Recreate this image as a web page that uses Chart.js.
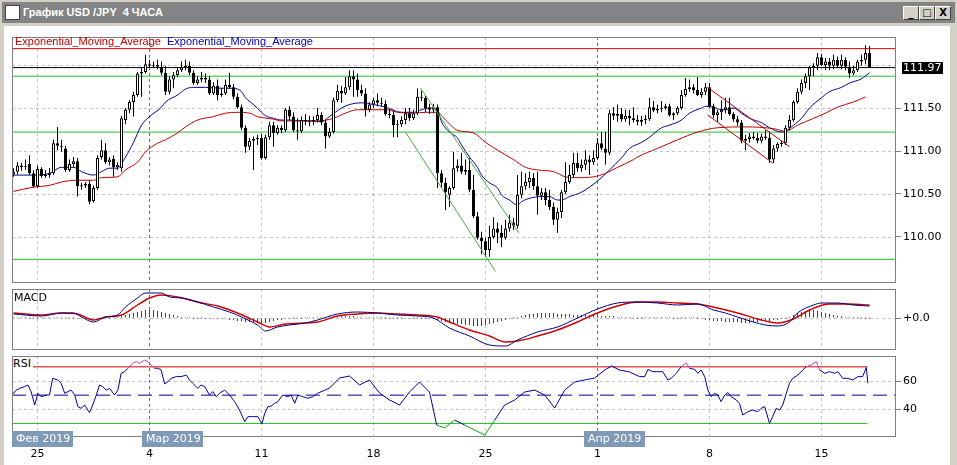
<!DOCTYPE html>
<html lang="ru">
<head>
<meta charset="UTF-8">
<title>График USD/JPY 4 часа</title>
<script src="https://cdn.jsdelivr.net/npm/chart.js"></script>
<style>
  body { margin: 0; width: 957px; height: 465px; overflow: hidden; background: #d4d0c8; position: relative; font-family: 'DejaVu Sans', sans-serif; }
  #titlebar { position: absolute; left: 2px; top: 2px; width: 953px; height: 21px; background: #848484; }
  #titlebar .ttl { position: absolute; left: 21px; top: 4px; color: #fff; font: bold 11px 'Liberation Sans', sans-serif; white-space: pre; }
  #titlebar .ico { position: absolute; left: 3px; top: 3px; width: 13px; height: 13px; background: #fff; border: 1px solid #404040; }
  .btn { position: absolute; top: 4px; width: 14px; height: 12px; background: #d4d0c8; border: 1px solid; border-color: #fff #404040 #404040 #fff; font: bold 10px 'DejaVu Sans', sans-serif; line-height: 12px; text-align: center; color: #000; }
  #client { position: absolute; left: 4px; top: 26px; width: 946px; height: 439px; background: #fff; }
  canvas { position: absolute; }
  .lbl { position: absolute; font-size: 11px; line-height: 13px; color: #000; white-space: pre; }
  .leg { position: absolute; top: 34px; font: 11px 'Liberation Sans', sans-serif; line-height: 14px; white-space: pre; z-index: 2; }
</style>
</head>
<body>
  <div id="titlebar">
    <div class="ico"></div>
    <span class="ttl">График USD /JPY  4 ЧАСА</span>
    <div class="btn" style="left:901px">_</div>
    <div class="btn" style="left:917px">□</div>
    <div class="btn" style="left:933px">X</div>
  </div>
  <div id="client"></div>

  <canvas id="mainChart" width="945" height="246" style="left:12px; top:37px"></canvas>
  <canvas id="macdChart" width="945" height="61" style="left:12px; top:289px"></canvas>
  <canvas id="rsiChart" width="945" height="109" style="left:12px; top:356px"></canvas>

  <span class="leg" style="left:15px; color:#c00000">Exponential_Moving_Average</span>
  <span class="leg" style="left:167px; color:#0000b0">Exponential_Moving_Average</span>
  <span class="lbl" style="left:14px; top:291px">MACD</span>
  <span class="lbl" style="left:13px; top:357px; background:#fff; padding-right:2px">RSI</span>

<script>
// 4h bars, index 0 = first bar on the left
const open = [
  110.73,110.76,110.83,110.81,110.85,110.74,110.59,110.79,110.71,110.72,
  110.74,111.09,111.06,111.03,110.78,110.85,110.88,110.59,110.60,110.62,
  110.42,110.57,110.93,111.01,110.87,110.91,110.81,110.80,111.36,111.48,
  111.57,111.65,111.90,111.92,112.01,111.99,112.00,111.98,111.91,111.69,
  111.83,111.88,111.94,111.97,111.99,111.91,111.79,111.83,111.85,111.83,
  111.67,111.76,111.65,111.67,111.77,111.74,111.63,111.51,111.27,111.05,
  111.12,111.14,111.15,110.92,111.16,111.30,111.21,111.27,111.24,111.48,
  111.40,111.24,111.23,111.36,111.35,111.34,111.36,111.42,111.33,111.17,
  111.22,111.59,111.70,111.67,111.74,111.87,111.83,111.71,111.67,111.48,
  111.54,111.59,111.56,111.55,111.43,111.42,111.30,111.31,111.36,111.44,
  111.38,111.44,111.63,111.62,111.50,111.48,111.51,110.74,110.63,110.49,
  110.57,110.80,110.83,110.76,110.78,110.55,110.24,109.99,109.95,109.85,
  110.00,110.10,110.05,109.99,110.10,110.17,110.13,110.49,110.59,110.64,
  110.69,110.59,110.48,110.52,110.43,110.35,110.20,110.29,110.52,110.64,
  110.72,110.86,110.80,110.84,110.90,110.87,110.92,111.09,111.03,110.98,
  111.44,111.41,111.43,111.37,111.41,111.38,111.36,111.34,111.36,111.37,
  111.51,111.47,111.49,111.50,111.52,111.42,111.44,111.50,111.65,111.72,
  111.74,111.71,111.65,111.69,111.74,111.52,111.42,111.45,111.48,111.51,
  111.43,111.37,111.33,111.12,111.14,111.17,111.15,111.12,111.17,111.15,
  110.90,111.03,111.08,111.09,111.27,111.36,111.57,111.69,111.79,111.87,
  111.97,111.99,112.09,112.00,112.04,111.99,112.06,111.99,112.06,111.98,
  111.90,111.94,112.04,112.06,112.14
];
const high = [
  110.80,110.87,110.86,110.90,110.95,110.78,110.83,110.81,110.78,110.80,
  111.13,111.28,111.13,111.06,110.90,110.93,110.92,110.63,110.64,110.66,
  110.60,110.95,111.13,111.09,110.93,110.95,110.87,111.41,111.50,111.59,
  111.69,111.92,111.97,112.12,112.06,112.04,112.06,112.04,111.99,111.87,
  111.92,111.97,112.04,112.06,112.04,111.94,111.87,111.92,111.90,111.87,
  111.80,111.83,111.73,111.83,111.91,111.78,111.67,111.54,111.30,111.15,
  111.17,111.19,111.20,111.19,111.34,111.34,111.30,111.30,111.50,111.52,
  111.45,111.38,111.40,111.43,111.41,111.40,111.50,111.45,111.36,111.27,
  111.62,111.77,111.76,111.86,111.94,111.94,111.90,111.77,111.73,111.57,
  111.62,111.67,111.62,111.59,111.49,111.48,111.36,111.40,111.50,111.50,
  111.48,111.73,111.70,111.64,111.55,111.55,111.54,110.78,110.69,110.59,
  110.99,110.90,110.98,110.90,110.92,110.72,110.29,110.06,109.99,110.13,
  110.23,110.17,110.14,110.20,110.26,110.22,110.72,110.76,110.74,110.76,
  110.74,110.76,110.57,110.57,110.55,110.40,110.34,110.55,110.87,110.84,
  110.98,110.98,110.90,111.01,110.95,111.01,111.15,111.22,111.22,111.48,
  111.51,111.54,111.50,111.48,111.48,111.51,111.42,111.41,111.42,111.62,
  111.58,111.54,111.58,111.55,111.55,111.45,111.52,111.71,111.85,111.83,
  111.78,111.86,111.73,111.79,111.79,111.55,111.48,111.59,111.62,111.62,
  111.45,111.41,111.36,111.19,111.21,111.22,111.21,111.20,111.24,111.22,
  111.07,111.10,111.12,111.30,111.42,111.59,111.73,111.83,111.90,111.99,
  112.02,112.14,112.13,112.08,112.08,112.12,112.10,112.12,112.09,112.04,
  111.99,112.06,112.12,112.23,112.22
];
const low = [
  110.70,110.73,110.77,110.78,110.72,110.57,110.57,110.69,110.69,110.69,
  110.72,111.01,110.99,110.76,110.76,110.81,110.47,110.55,110.57,110.38,
  110.40,110.55,110.90,110.85,110.83,110.70,110.78,110.76,111.31,111.44,
  111.40,111.63,111.63,111.90,111.97,111.97,111.95,111.88,111.65,111.66,
  111.73,111.86,111.92,111.94,111.88,111.77,111.77,111.80,111.79,111.65,
  111.65,111.59,111.63,111.65,111.72,111.60,111.49,111.24,110.98,111.01,
  110.78,111.07,110.90,110.90,111.13,111.05,111.19,111.21,111.22,111.36,
  111.22,111.13,111.21,111.30,111.29,111.30,111.33,111.30,111.03,111.15,
  111.20,111.57,111.56,111.65,111.71,111.63,111.63,111.64,111.40,111.45,
  111.50,111.52,111.52,111.41,111.38,111.16,111.16,111.28,111.31,111.35,
  111.36,111.42,111.58,111.45,111.43,111.44,110.57,110.57,110.31,110.35,
  110.55,110.76,110.73,110.72,110.52,110.22,109.97,109.80,109.77,109.77,
  109.98,109.93,109.88,109.97,110.06,110.08,110.10,110.45,110.55,110.57,
  110.55,110.26,110.43,110.37,110.31,110.14,110.05,110.22,110.50,110.62,
  110.69,110.76,110.76,110.78,110.72,110.84,110.90,111.01,110.84,110.95,
  111.36,111.34,111.34,111.34,111.30,111.33,111.30,111.29,111.31,111.35,
  111.45,111.44,111.45,111.48,111.40,111.36,111.42,111.48,111.63,111.69,
  111.67,111.64,111.62,111.65,111.50,111.38,111.34,111.36,111.44,111.41,
  111.34,111.29,111.09,111.01,111.10,111.13,111.09,111.09,111.13,110.86,
  110.86,110.99,111.05,111.07,111.24,111.34,111.55,111.66,111.73,111.71,
  111.87,111.94,111.99,111.94,111.94,111.95,111.97,111.95,111.94,111.85,
  111.88,111.92,111.99,112.01,111.97
];
const close = [
  110.76,110.83,110.81,110.81,110.74,110.59,110.79,110.71,110.72,110.74,
  111.09,111.06,111.05,110.78,110.85,110.88,110.59,110.60,110.62,110.41,
  110.57,110.92,111.01,110.87,110.90,110.81,110.84,111.38,111.48,111.57,
  111.65,111.90,111.92,112.01,111.99,112.00,111.98,111.91,111.69,111.83,
  111.88,111.94,111.97,111.99,111.91,111.79,111.83,111.85,111.83,111.67,
  111.76,111.65,111.67,111.77,111.74,111.63,111.51,111.27,111.05,111.12,
  111.14,111.15,110.92,111.16,111.30,111.21,111.27,111.24,111.48,111.40,
  111.24,111.23,111.36,111.35,111.34,111.36,111.42,111.33,111.17,111.22,
  111.59,111.70,111.67,111.74,111.87,111.83,111.71,111.67,111.48,111.54,
  111.59,111.56,111.55,111.43,111.42,111.30,111.31,111.36,111.44,111.38,
  111.44,111.63,111.62,111.50,111.48,111.51,110.74,110.63,110.52,110.57,
  110.80,110.83,110.76,110.78,110.55,110.24,109.99,109.95,109.85,110.00,
  110.10,110.05,109.99,110.10,110.17,110.13,110.49,110.59,110.64,110.69,
  110.59,110.48,110.52,110.43,110.35,110.20,110.29,110.52,110.64,110.72,
  110.86,110.80,110.84,110.90,110.87,110.92,111.09,111.03,110.98,111.44,
  111.41,111.43,111.37,111.41,111.38,111.36,111.34,111.36,111.37,111.51,
  111.47,111.49,111.50,111.52,111.42,111.44,111.50,111.65,111.72,111.74,
  111.71,111.65,111.69,111.74,111.52,111.42,111.45,111.48,111.51,111.43,
  111.37,111.33,111.12,111.14,111.17,111.15,111.12,111.17,111.15,110.90,
  111.03,111.08,111.09,111.27,111.36,111.57,111.69,111.79,111.87,111.97,
  111.99,112.09,112.00,112.04,111.99,112.06,111.99,112.06,111.98,111.90,
  111.94,112.04,112.06,112.14,111.97
];

// EMA curves: [bar, price]
const emaFast = [
  [0,110.72],[5,110.72],[9,110.74],[12,110.81],[15,110.81],[17,110.76],[20,110.72],[22,110.76],[24,110.80],[26,110.80],
  [28,110.93],[30,111.10],[32,111.30],[34,111.40],[37,111.51],[38,111.57],[41,111.65],[43,111.72],[45,111.74],[48,111.74],
  [52,111.73],[55,111.73],[57,111.69],[58,111.62],[60,111.54],[62,111.45],[63,111.41],[65,111.38],[67,111.36],[69,111.36],
  [72,111.35],[75,111.35],[77,111.34],[79,111.40],[82,111.50],[84,111.54],[87,111.56],[90,111.54],[93,111.51],[97,111.45],
  [100,111.45],[102,111.48],[104,111.50],[106,111.48],[107,111.34],[109,111.22],[111,111.15],[112,111.07],[114,110.93],[116,110.81],
  [117,110.72],[119,110.63],[121,110.57],[122,110.49],[124,110.43],[126,110.37],[127,110.41],[129,110.45],[132,110.47],[134,110.47],
  [136,110.43],[137,110.43],[139,110.47],[142,110.52],[144,110.58],[147,110.69],[149,110.78],[152,110.92],[154,111.03],[157,111.10],
  [159,111.16],[162,111.27],[164,111.30],[167,111.36],[169,111.44],[172,111.50],[173,111.52],[175,111.51],[177,111.48],[178,111.48],
  [180,111.50],[182,111.44],[184,111.38],[187,111.33],[189,111.27],[192,111.22],[193,111.23],[195,111.30],[197,111.38],[199,111.50],
  [202,111.62],[204,111.69],[207,111.74],[209,111.79],[212,111.84],[214,111.91]
];
const emaSlow = [
  [0,110.53],[5,110.58],[9,110.60],[12,110.64],[16,110.66],[20,110.66],[22,110.69],[26,110.70],[28,110.78],[31,110.87],
  [33,110.99],[36,111.09],[38,111.13],[41,111.21],[43,111.28],[46,111.36],[50,111.40],[53,111.44],[56,111.45],[59,111.44],
  [61,111.40],[65,111.37],[67,111.35],[71,111.35],[76,111.35],[80,111.38],[83,111.44],[86,111.48],[90,111.48],[93,111.48],
  [96,111.45],[100,111.44],[103,111.45],[106,111.45],[108,111.36],[111,111.24],[115,111.21],[118,111.10],[121,111.01],[125,110.90],
  [128,110.81],[131,110.78],[135,110.76],[138,110.70],[141,110.69],[145,110.70],[148,110.74],[151,110.81],[155,110.90],[156,110.93],
  [161,111.03],[166,111.13],[171,111.22],[176,111.27],[183,111.28],[190,111.26],[193,111.23],[196,111.30],[200,111.38],[203,111.44],
  [206,111.51],[210,111.57],[213,111.63]
];

// horizontal levels and trend lines drawn on the chart
const redLevels = [112.19];
const greenLevels = [111.87, 111.22, 109.74];
const greenTrends = [[[101.8,111.73],[126.3,110.05]], [[98,111.22],[120.5,109.60]]];
const redTrends = [[[173.5,111.74],[194,111.05]], [[173.5,111.42],[189.8,110.86]]];

// MACD panel
const macdLine = [
  [0,0.020],[7,0.010],[12,0.025],[15,0.025],[17,0.005],[20,-0.020],[23,0.005],[26,0.015],[28,0.055],[31,0.100],
  [33,0.125],[37,0.125],[39,0.105],[42,0.100],[46,0.080],[50,0.055],[54,0.030],[57,0.005],[61,-0.035],[63,-0.065],
  [66,-0.045],[69,-0.035],[73,-0.025],[76,-0.010],[81,0.020],[86,0.030],[91,0.025],[96,0.015],[101,0.010],[105,0.000],
  [109,-0.050],[114,-0.090],[119,-0.135],[123,-0.140],[126,-0.110],[131,-0.070],[136,-0.045],[141,0.000],[146,0.045],[151,0.075],
  [156,0.080],[161,0.075],[166,0.065],[171,0.070],[175,0.040],[178,0.025],[181,0.005],[185,-0.020],[188,-0.035],[191,-0.040],
  [194,-0.020],[196,0.025],[200,0.065],[202,0.075],[206,0.075],[210,0.065],[214,0.060]
];
const signalLine = [
  [0,0.025],[7,0.015],[12,0.025],[16,0.020],[20,-0.010],[23,0.005],[27,0.015],[31,0.065],[34,0.100],[37,0.115],
  [41,0.105],[46,0.080],[51,0.060],[56,0.025],[61,-0.020],[64,-0.045],[68,-0.030],[76,-0.020],[81,0.010],[86,0.020],
  [91,0.025],[96,0.020],[101,0.015],[106,0.005],[109,-0.020],[114,-0.060],[119,-0.090],[123,-0.120],[126,-0.115],[131,-0.090],
  [136,-0.060],[141,-0.020],[146,0.025],[151,0.060],[156,0.080],[161,0.080],[166,0.075],[171,0.070],[176,0.050],[181,0.025],
  [186,-0.005],[191,-0.025],[195,-0.005],[199,0.040],[204,0.070],[209,0.070],[214,0.065]
];
const macdHist = [
  0.005,0.005,0.005,0.005,0,0,0,0.005,0.005,0.005,0.005,0.005,0.005,0,0,0,-0.005,-0.005,-0.005,-0.005,
  -0.005,-0.005,-0.005,0,0,0.005,0.005,0.01,0.015,0.02,0.025,0.03,0.035,0.04,0.04,0.04,0.035,0.03,0.025,0.02,
  0.015,0.01,0.005,0.005,0.005,0,0,0,-0.005,-0.005,-0.005,-0.005,-0.005,-0.005,-0.01,-0.01,-0.015,-0.015,-0.02,-0.02,
  -0.025,-0.025,-0.025,-0.025,-0.02,-0.015,-0.01,-0.01,-0.005,-0.005,0,0,0,0.005,0.005,0.005,0.005,0.005,0.005,0.005,
  0.005,0.005,0.01,0.01,0.01,0.01,0.005,0.005,0.005,0.005,0.005,0.005,0,0,0,0,0,0,-0.005,-0.005,
  0,0,0,0,-0.005,-0.005,-0.01,-0.015,-0.02,-0.025,-0.03,-0.03,-0.03,-0.035,-0.035,-0.04,-0.04,-0.04,-0.035,-0.03,
  -0.025,-0.02,-0.015,-0.01,-0.005,0,0.005,0.01,0.015,0.02,0.02,0.025,0.025,0.025,0.025,0.025,0.02,0.02,0.02,0.02,
  0.015,0.015,0.015,0.015,0.015,0.015,0.01,0.01,0.01,0.01,0.01,0.005,0.005,0.005,0.005,0,0,0,0.005,0.005,
  0.005,0.005,0.005,0.005,0.005,0,0,0,0.005,0.005,0.005,0,-0.005,-0.01,-0.01,-0.015,-0.015,-0.015,-0.02,-0.02,
  -0.02,-0.02,-0.025,-0.025,-0.025,-0.02,-0.02,-0.015,-0.015,-0.015,-0.01,-0.01,-0.005,0,0.005,0.015,0.025,0.03,0.035,0.04,
  0.04,0.035,0.03,0.025,0.02,0.015,0.01,0.01,0.005,0.005,0.005,0,0,0,0
];

// RSI panel
const rsiPts = [
  [-0.4,50.1],[0.7,53.6],[1.5,54.8],[2.8,56.0],[3.6,57.2],[4.4,52.5],[5.3,43.0],[6.1,51.3],[6.9,48.9],[8.2,50.1],
  [9,50.1],[9.8,61.9],[11.1,60.7],[11.9,58.4],[12.8,51.3],[13.6,52.5],[14.4,53.6],[15.3,50.1],[16.1,41.9],[16.9,40.7],
  [17.8,43.0],[19,37.6],[19.8,43.0],[20.7,50.1],[21.5,57.2],[22.3,56.0],[23.2,53.6],[24,54.8],[25.3,50.1],[26.1,53.6],
  [26.9,65.4],[27.8,66.6],[28.6,69.0],[29.4,71.3],[29.8,72.5],[30.7,73.7],[31.5,72.5],[32.8,74.8],[33.6,73.7],[34.4,71.3],
  [35.3,69.0],[36.1,69.0],[36.9,67.8],[37.8,57.9],[38.6,59.5],[39.4,61.9],[40.7,63.1],[41.9,63.1],[43.2,64.2],[44,60.7],
  [44.8,58.4],[46.1,54.8],[46.9,57.2],[47.8,56.0],[49,50.1],[49.8,52.5],[50.7,48.9],[51.5,51.3],[52.8,53.6],[54,50.1],
  [55.3,45.4],[56.5,39.5],[57.8,31.3],[58.6,34.8],[59.8,34.8],[61.1,34.8],[62.1,29.6],[62.8,37.1],[63.6,41.9],[64.4,42.3],
  [65.3,44.2],[66.1,45.4],[67.3,50.1],[68.6,48.9],[69.4,50.1],[70.3,44.2],[71.1,50.1],[72.3,48.9],[73.6,47.8],[74.8,48.9],
  [76,51.3],[79,55.0],[81.5,62.1],[84,63.5],[86.5,57.2],[89,60.7],[91.5,51.5],[94,46.6],[96.5,43.0],[99,52.2],
  [101.5,59.3],[104,52.2],[105.8,28.9],[107.8,26.8],[110.3,32.4],[112.8,28.9],[115.3,25.4],[117.8,21.8],[120.3,32.4],[122.8,43.0],
  [125.3,46.6],[127.8,52.2],[130.3,53.6],[132.8,50.1],[135.3,40.9],[137.8,53.6],[140.3,59.3],[142.8,60.7],[145.3,62.1],[147.8,67.8],
  [149.5,70.6],[151.5,67.8],[154,66.4],[156.5,63.1],[157.8,63.1],[158.6,68.2],[159.8,66.6],[161,66.6],[162.3,66.6],[163.6,60.7],
  [164.4,61.9],[165.7,65.4],[166.9,70.1],[168.2,72.9],[169,69.0],[170.3,68.2],[171.1,65.4],[171.9,67.8],[172.8,63.1],[173.6,53.6],
  [174.4,48.9],[175.3,51.3],[176.1,50.1],[176.9,45.4],[177.8,50.1],[178.6,51.8],[179.4,48.9],[180.7,46.6],[181.5,44.2],[182.3,36.0],
  [183.6,38.3],[184.8,39.5],[186.1,38.3],[186.9,40.7],[187.8,41.9],[189,30.1],[189.8,34.8],[190.7,40.7],[191.5,39.5],[192.3,43.0],
  [193.2,51.3],[194,58.4],[194.8,61.9],[196.1,64.2],[197.3,67.8],[198.2,70.1],[199.4,71.3],[200.7,73.7],[201.5,67.8],[202.8,65.4],
  [204,66.6],[205.3,65.4],[206.1,66.6],[207.3,61.9],[208.6,61.9],[209.8,60.7],[211.1,63.1],[212.3,63.1],[213.2,69.5],[213.6,58.4]
];
const rsiLevels = { high: 70, mid: 50, low: 30 };

// time axis
const dayIdx = [6, 34, 62, 90, 118, 146, 174, 202];
const dayLabels = ['25', '4', '11', '18', '25', '1', '8', '15'];
const monthIdx = [34, 146];
const monthLabels = ['Фев 2019', 'Мар 2019', 'Апр 2019'];
const monthBoxIdx = [-0.4, 32, 142.5];

const FONT = { family: 'DejaVu Sans', size: 11 };
const X_MIN = -0.375, X_MAX = 220.625;   // 4px per bar, bars land on whole pixels
const lastBar = close.length - 1;
const lastClose = close[lastBar];

function pts(arr) { return arr.map(p => ({ x: p[0], y: p[1] })); }
function line(arr, color, width, order, extra) {
  return Object.assign({ type: 'line', data: pts(arr), borderColor: color, borderWidth: width,
    pointRadius: 0, fill: false, order: order }, extra || {});
}
function hLine(v, color, x0, x1, order) {
  return line([[x0, v], [x1, v]], color, 1, order);
}

function xAxis() {
  return { type: 'linear', min: X_MIN, max: X_MAX, offset: false, display: false };
}
function yAxis(min, max, ticks, fmt) {
  return {
    position: 'right', min: min, max: max,
    afterFit(s) { s.width = 61; s.paddingTop = 0; s.paddingBottom = 0; },
    afterBuildTicks(s) { s.ticks = ticks.map(v => ({ value: v })); },
    grid: { drawOnChartArea: false, drawTicks: true, tickLength: 5, color: '#808080' },
    border: { display: false },
    ticks: { padding: 2, color: '#000', font: FONT, autoSkip: false, callback: fmt }
  };
}

// dashed grid + panel frame
function panel(levels, after) {
  return {
    id: 'panel',
    beforeDatasetsDraw(chart) {
      const { ctx, chartArea: a, scales: { x, y } } = chart;
      ctx.save();
      ctx.lineWidth = 1;
      ctx.setLineDash([3, 3]);
      levels.forEach(v => {
        const py = Math.round(y.getPixelForValue(v)) + 0.5;
        ctx.strokeStyle = '#c4c4c4';
        ctx.beginPath(); ctx.moveTo(a.left, py); ctx.lineTo(a.right, py); ctx.stroke();
      });
      dayIdx.forEach(v => {
        const px = Math.floor(x.getPixelForValue(v)) + 0.5;
        ctx.strokeStyle = monthIdx.includes(v) ? '#707070' : '#c4c4c4';
        ctx.beginPath(); ctx.moveTo(px, a.top); ctx.lineTo(px, a.bottom); ctx.stroke();
      });
      ctx.restore();
    },
    afterDraw(chart) {
      const { ctx, chartArea: a } = chart;
      ctx.save();
      ctx.strokeStyle = '#808080';
      ctx.lineWidth = 1;
      ctx.strokeRect(a.left + 0.5, a.top + 0.5, a.width - 1, a.height - 1);
      ctx.restore();
      if (after) after(chart);
    }
  };
}

const common = {
  responsive: false, animation: false, events: [],
  layout: { padding: 0 },
  plugins: { legend: { display: false }, tooltip: { enabled: false } }
};

// ---------- price panel ----------
const bodyColors = close.map((c, i) => c >= open[i] ? '#ffffff' : '#000000');
const mainSets = [
  line(emaSlow, '#c00000', 1, 3, { cubicInterpolationMode: 'monotone' }),
  line(emaFast, '#000090', 1, 3, { cubicInterpolationMode: 'monotone' }),
  hLine(redLevels[0], '#d00000', X_MIN, X_MAX, 6),
  ...greenLevels.map(v => hLine(v, '#22c022', X_MIN, X_MAX, 6)),
  hLine(lastClose, '#000000', X_MIN, X_MAX, 6),
  ...greenTrends.map(t => line(t, '#40b040', 1, 0)),
  ...redTrends.map(t => line(t, '#c00000', 1, 0)),
  { type: 'bar', order: 1, grouped: false, barThickness: 3, minBarLength: 1, inflateAmount: 0,
    borderSkipped: false, borderWidth: 1, borderColor: '#000', backgroundColor: bodyColors,
    data: close.map((c, i) => ({ x: i, y: [open[i], c] })) },
  { type: 'bar', order: 2, grouped: false, barThickness: 1, inflateAmount: 0, borderWidth: 0,
    backgroundColor: '#000', data: close.map((c, i) => ({ x: i, y: [low[i], high[i]] })) }
];

function priceTag(chart) {
  const { ctx, chartArea: a, scales: { y } } = chart;
  const py = Math.round(y.getPixelForValue(lastClose));
  ctx.save();
  ctx.fillStyle = '#000';
  ctx.fillRect(a.right + 6, py - 6, 41, 12);
  ctx.fillStyle = '#fff';
  ctx.font = '11px "DejaVu Sans"';
  ctx.textBaseline = 'middle';
  ctx.fillText(lastClose.toFixed(2), a.right + 7, py);
  ctx.restore();
}

new Chart(document.getElementById('mainChart'), {
  type: 'line',
  data: { datasets: mainSets },
  options: Object.assign({}, common, {
    scales: {
      x: xAxis(),
      y: yAxis(109.4651, 112.3256, [110, 110.5, 111, 111.5], v => v.toFixed(2))
    }
  }),
  plugins: [panel([110, 110.5, 111, 111.5, 112], priceTag)]
});

// ---------- MACD panel ----------
new Chart(document.getElementById('macdChart'), {
  type: 'line',
  data: { datasets: [
    line(macdLine, '#000080', 1, 0, { cubicInterpolationMode: 'monotone' }),
    line(signalLine, '#d00000', 1.4, 1, { cubicInterpolationMode: 'monotone' }),
    { type: 'bar', order: 2, grouped: false, barThickness: 1, minBarLength: 1, inflateAmount: 0, borderWidth: 0,
      backgroundColor: '#e00000', data: macdHist.map((v, i) => ({ x: i, y: v })) }
  ] },
  options: Object.assign({}, common, {
    scales: { x: xAxis(), y: yAxis(-0.16, 0.145, [0], () => '+0.0') }
  }),
  plugins: [panel([0])]
});

// ---------- RSI panel ----------
function monthTags(chart) {
  const { ctx, chartArea: a, scales: { x } } = chart;
  ctx.save();
  ctx.font = '11px "DejaVu Sans"';
  ctx.textBaseline = 'middle';
  monthLabels.forEach((t, i) => {
    const left = Math.round(x.getPixelForValue(monthBoxIdx[i]));
    ctx.fillStyle = '#7f9ab6';
    ctx.fillRect(left, a.bottom - 6, 61, 16);
    ctx.fillStyle = '#fff';
    ctx.fillText(t, left + 4, a.bottom + 2);
  });
  ctx.restore();
}

const rsiX = {
  type: 'linear', min: X_MIN, max: X_MAX, offset: false,
  afterFit(s) { s.height = 28; s.paddingLeft = 0; s.paddingRight = 0; },
  afterBuildTicks(s) { s.ticks = dayIdx.map(v => ({ value: v })); },
  grid: { display: false, drawTicks: false },
  border: { display: false },
  ticks: { padding: 11, color: '#000', font: FONT, autoSkip: false, maxRotation: 0,
    callback: v => dayLabels[dayIdx.indexOf(v)] }
};

new Chart(document.getElementById('rsiChart'), {
  type: 'line',
  data: { datasets: [
    line(rsiPts, '#0000a0', 1, 0, { segment: { borderColor: c => {
      const m = (c.p0.parsed.y + c.p1.parsed.y) / 2;
      return m >= rsiLevels.high - 0.5 ? '#c040c0' : (m <= rsiLevels.low + 0.5 ? '#00b000' : '#0000a0');
    } } }),
    hLine(rsiLevels.high, '#d00000', X_MIN, lastBar - 0.5, 2),
    hLine(rsiLevels.low, '#22c022', X_MIN, lastBar - 0.5, 2),
    line([[X_MIN, rsiLevels.mid], [X_MAX, rsiLevels.mid]], '#000090', 1, 2, { borderDash: [14, 7] })
  ] },
  options: Object.assign({}, common, {
    scales: { x: rsiX, y: yAxis(20.42, 77.67, [40, 60], v => String(v)) }
  }),
  plugins: [panel([40, 60], monthTags)]
});
</script>
</body>
</html>
